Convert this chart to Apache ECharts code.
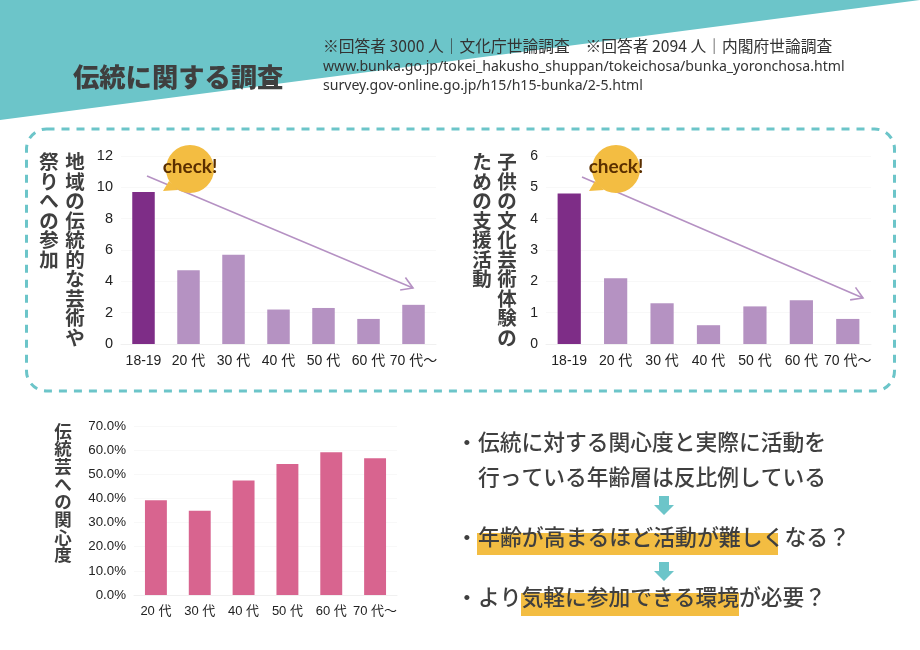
<!DOCTYPE html>
<html lang="ja"><head><meta charset="utf-8">
<style>html,body{margin:0;padding:0;background:#fff}#c{width:920px;height:650px}</style>
<script src="https://cdn.jsdelivr.net/npm/echarts@6/dist/echarts.min.js"></script>
</head><body><div id="c"></div>
<script>
const youthAges = ['18-19','20 代','30 代','40 代','50 代','60 代','70 代～'];
const adultAges = ['20 代','30 代','40 代','50 代','60 代','70 代～'];
const festivalValues = [9.7,4.7,5.7,2.2,2.3,1.6,2.5];
const supportValues = [4.8,2.1,1.3,0.6,1.2,1.4,0.8];
const interestValues = [39.2,34.9,47.4,54.3,59.1,56.6];

const JP = '"Noto Sans CJK JP"';
const AX = '"Liberation Sans","Noto Sans CJK JP"';
const INK = '#3f3f3f', TEAL = '#6cc5c9', GOLD = '#f3bd42', LINE = '#b591c3';

function txt(x,y,text,size,weight,opt){
  return {type:'text',x,y,z:20,style:Object.assign({text,fill:INK,font:`${weight} ${size}px ${JP}`,verticalAlign:'middle',align:'left'},opt||{})};
}
function vert(x,y,s,size,step){
  return {type:'text',x,y,z:20,style:{text:[...s].join('\n'),fill:INK,font:`bold ${size}px ${JP}`,lineHeight:step,align:'center',verticalAlign:'top'}};
}
function rect(x,y,w,h,fill,z){return {type:'rect',z:z||5,shape:{x,y,width:w,height:h},style:{fill}};}
function arrow(x1,y1,x2,y2){
  const a=Math.atan2(y2-y1,x2-x1),L=13,t=0.55;
  const st={stroke:LINE,lineWidth:1.6,fill:null};
  return [
    {type:'line',z:10,shape:{x1,y1,x2,y2},style:st},
    {type:'polyline',z:10,shape:{points:[[x2-L*Math.cos(a-t),y2-L*Math.sin(a-t)],[x2,y2],[x2-L*Math.cos(a+t),y2-L*Math.sin(a+t)]]},style:st}
  ];
}
function bubble(cx,cy,tx,ty){
  return [
    {type:'polygon',z:12,shape:{points:[[tx,ty],[cx-21,cy+12],[cx-12,cy+21]]},style:{fill:GOLD}},
    {type:'circle',z:12,shape:{cx,cy,r:24},style:{fill:GOLD}},
    {type:'text',z:13,x:cx,y:cy-2,style:{text:'check!',fill:'#5a2f00',font:'bold 19px "Lato"',align:'center',verticalAlign:'middle'}}
  ];
}
function downArrow(cx,y){
  return {type:'polygon',z:6,shape:{points:[[cx-5,y],[cx+5,y],[cx+5,y+9],[cx+10,y+9],[cx,y+19],[cx-10,y+9],[cx-5,y+9]]},style:{fill:TEAL}};
}

const graphic=[
  {type:'polygon',z:0,shape:{points:[[0,0],[920,0],[0,120]]},style:{fill:TEAL}},
  {type:'rect',z:1,shape:{x:26.5,y:129,width:868,height:262,r:20},style:{fill:null,stroke:TEAL,lineWidth:3,lineDash:[8,7]}},
  txt(73,77,'伝統に関する調査',26.3,'900'),
  txt(323,46,'※回答者 3000 人｜文化庁世論調査　※回答者 2094 人｜内閣府世論調査',15.75,'normal',{fill:'#333'}),
  txt(323,67,'www.bunka.go.jp/tokei_hakusho_shuppan/tokeichosa/bunka_yoronchosa.html',14,'normal',{fill:'#333',font:'14.1px "Noto Sans"'}),
  txt(323,86,'survey.gov-online.go.jp/h15/h15-bunka/2-5.html',14,'normal',{fill:'#333',font:'14.1px "Noto Sans"'}),
  vert(75,152,'地域の伝統的な芸術や',19.5,19.5),
  vert(49,152,'祭りへの参加',19.5,19.5),
  vert(507,152,'子供の文化芸術体験の',19.5,19.5),
  vert(482,152,'ための支援活動',19.5,19.5),
  vert(63,422,'伝統芸への関心度',17.5,17.7),
  ...arrow(147,176,413,288),
  ...arrow(582,177,863,298),
  ...bubble(190,169,163,191),
  ...bubble(616,169,589,191),
  rect(477,533,301,22,GOLD),
  rect(521,593,218,23,GOLD),
  txt(456,442,'・',21.75,'500'),
  txt(478,442,'伝統に対する関心度と実際に活動を',21.75,'500'),
  txt(478,477,'行っている年齢層は反比例している',21.75,'500'),
  downArrow(664,496),
  txt(456,537,'・',21.75,'500'),
  txt(478,537,'年齢が高まるほど活動が難しくなる？',21.9,'500'),
  downArrow(664,562),
  txt(456,597,'・',21.75,'500'),
  txt(478,597,'より気軽に参加できる環境が必要？',21.75,'500')
];

const grids=[
  {left:121,width:315,top:156,height:188},
  {left:546,width:325,top:156,height:188},
  {left:134,width:263,top:426,height:169}
];
function xAx(i,data,size){
  return {type:'category',gridIndex:i,data,axisTick:{show:false},axisLine:{lineStyle:{color:'#f0f0f0'}},
    axisLabel:{interval:0,color:'#222',fontSize:size,fontFamily:AX,margin:10}};
}
function yAx(i,max,interval,size,fmt){
  return {type:'value',gridIndex:i,min:0,max,interval,axisLine:{show:false},axisTick:{show:false},
    splitLine:{lineStyle:{color:'#f8f8f8'}},
    axisLabel:{color:'#222',fontSize:size,fontFamily:AX,margin:8,formatter:fmt||undefined}};
}
function bars(i,data,color){
  return {type:'bar',xAxisIndex:i,yAxisIndex:i,data,barWidth:'50%',itemStyle:{color},silent:true,animation:false};
}
const youthColor=p=>p.dataIndex===0?'#7e2d87':'#b592c2';

echarts.init(document.getElementById('c'),null,{renderer:'canvas'}).setOption({
  animation:false,
  backgroundColor:'#fff',
  grid:grids,
  xAxis:[xAx(0,youthAges,14),xAx(1,youthAges,14),xAx(2,adultAges,13)],
  yAxis:[yAx(0,12,2,14.5),yAx(1,6,1,14),yAx(2,70,10,13.3,v=>v.toFixed(1)+'%')],
  series:[bars(0,festivalValues,youthColor),bars(1,supportValues,youthColor),bars(2,interestValues,'#d8648f')],
  graphic
});
</script></body></html>
